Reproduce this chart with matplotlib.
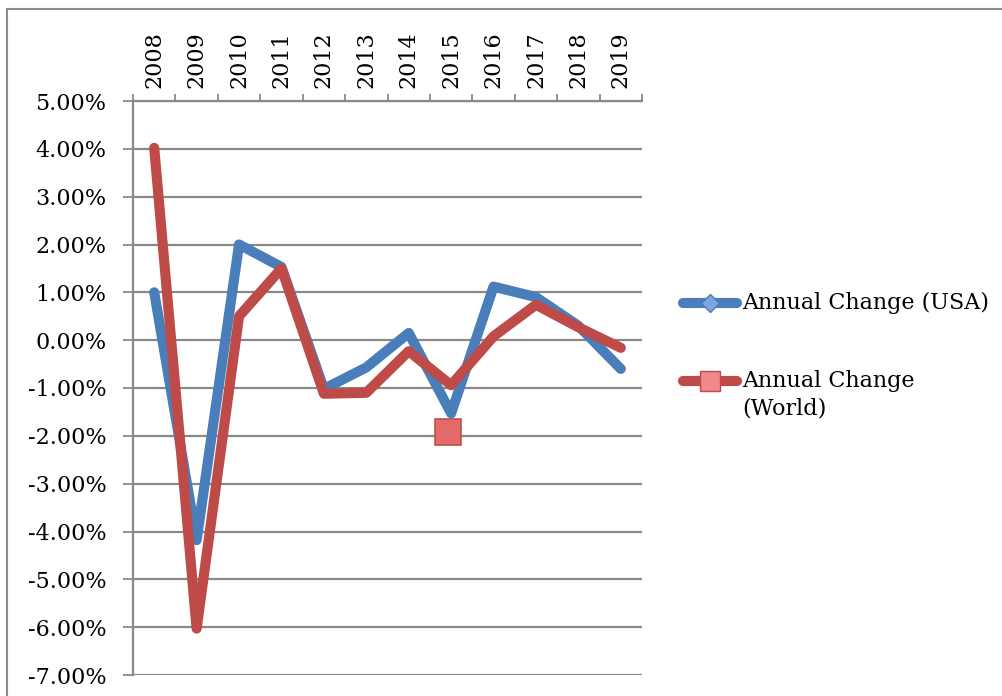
import numpy as np
import matplotlib

matplotlib.use("Agg")
import matplotlib.pyplot as plt
from matplotlib.lines import Line2D
from matplotlib.patches import Rectangle
from matplotlib.ticker import FixedLocator, FuncFormatter

plt.rcParams.update({"font.family": "DejaVu Serif", "font.size": 16})

years = ["2008", "2009", "2010", "2011", "2012", "2013",
         "2014", "2015", "2016", "2017", "2018", "2019"]
usa_change = [1.00, -4.18, 2.00, 1.53, -1.02, -0.57,
              0.15, -1.53, 1.12, 0.90, 0.30, -0.60]
world_change = [4.02, -6.03, 0.50, 1.50, -1.12, -1.10,
                -0.23, -0.94, 0.08, 0.74, 0.27, -0.16]
series_labels = ["Annual Change (USA)", "Annual Change\n(World)"]
# leftover marker floating in the plot area of the original
stray_year = "2015"
stray_value = -1.92

BLUE = "#4A7EBB"
RED = "#BE4B48"
GRID = "#898989"
W, H = 1002, 696

fig = plt.figure(figsize=(W / 100, H / 100), dpi=100)
ax = fig.add_axes([133 / W, 1 - 675 / H, 509 / W, 574 / H])

x = np.arange(len(years))
ax.plot(x, usa_change, color=BLUE, lw=7.3, solid_capstyle="round",
        solid_joinstyle="round", zorder=3)
ax.plot(x, world_change, color=RED, lw=7.3, solid_capstyle="round",
        solid_joinstyle="round", zorder=4)
ax.plot(years.index(stray_year) - 0.07, stray_value, marker="s", ms=18.5,
        mfc="#E46A6A", mec="#C0504D", mew=1.2, zorder=5)

ax.set_xlim(-0.5, len(years) - 0.5)
ax.set_ylim(-7, 5)
ax.set_yticks(np.arange(-7, 6, 1))
ax.yaxis.set_major_formatter(FuncFormatter(lambda v, _: f"{v:.2f}%"))
ax.yaxis.grid(True, color=GRID, lw=1.6)
ax.set_axisbelow(True)
ax.tick_params(axis="y", direction="out", length=7, width=1.3, color=GRID, pad=12)

ax.xaxis.tick_top()
ax.set_xticks(x)
ax.set_xticklabels(years, rotation=90)
ax.xaxis.set_minor_locator(FixedLocator(np.arange(-0.5, len(years), 1)))
ax.tick_params(axis="x", which="major", length=0, pad=9)
ax.tick_params(axis="x", which="minor", direction="out", length=5, width=1.3,
               color=GRID, top=True, bottom=False)

for side in ["right", "bottom"]:
    ax.spines[side].set_visible(False)
for side in ["left", "top"]:
    ax.spines[side].set_color(GRID)
    ax.spines[side].set_linewidth(1.6)

# legend drawn by hand so the handle lines up with the first text line
legend_rows = [
    (303, BLUE, "D", 9, "#7EA6DE"),
    (381, RED, "s", 14, "#EE8A8A"),
]
for (yp, col, mk, ms, mfc), label in zip(legend_rows, series_labels):
    yf = 1 - yp / H
    fig.add_artist(Line2D([683 / W, 737 / W], [yf, yf], transform=fig.transFigure,
                          color=col, lw=7.3, solid_capstyle="round"))
    fig.add_artist(Line2D([710 / W], [yf], transform=fig.transFigure, marker=mk,
                          ms=ms, mfc=mfc, mec=col, mew=1, ls="none"))
    fig.text(742 / W, yf + 11 / H, label, ha="left", va="top", linespacing=1.3)

fig.patches.append(Rectangle((7 / W, -0.1), 1.2, 1 - 9 / H + 0.1,
                             transform=fig.transFigure, fill=False,
                             edgecolor="#8C8C8C", lw=1.5))

fig.savefig("out.png", dpi=100)
